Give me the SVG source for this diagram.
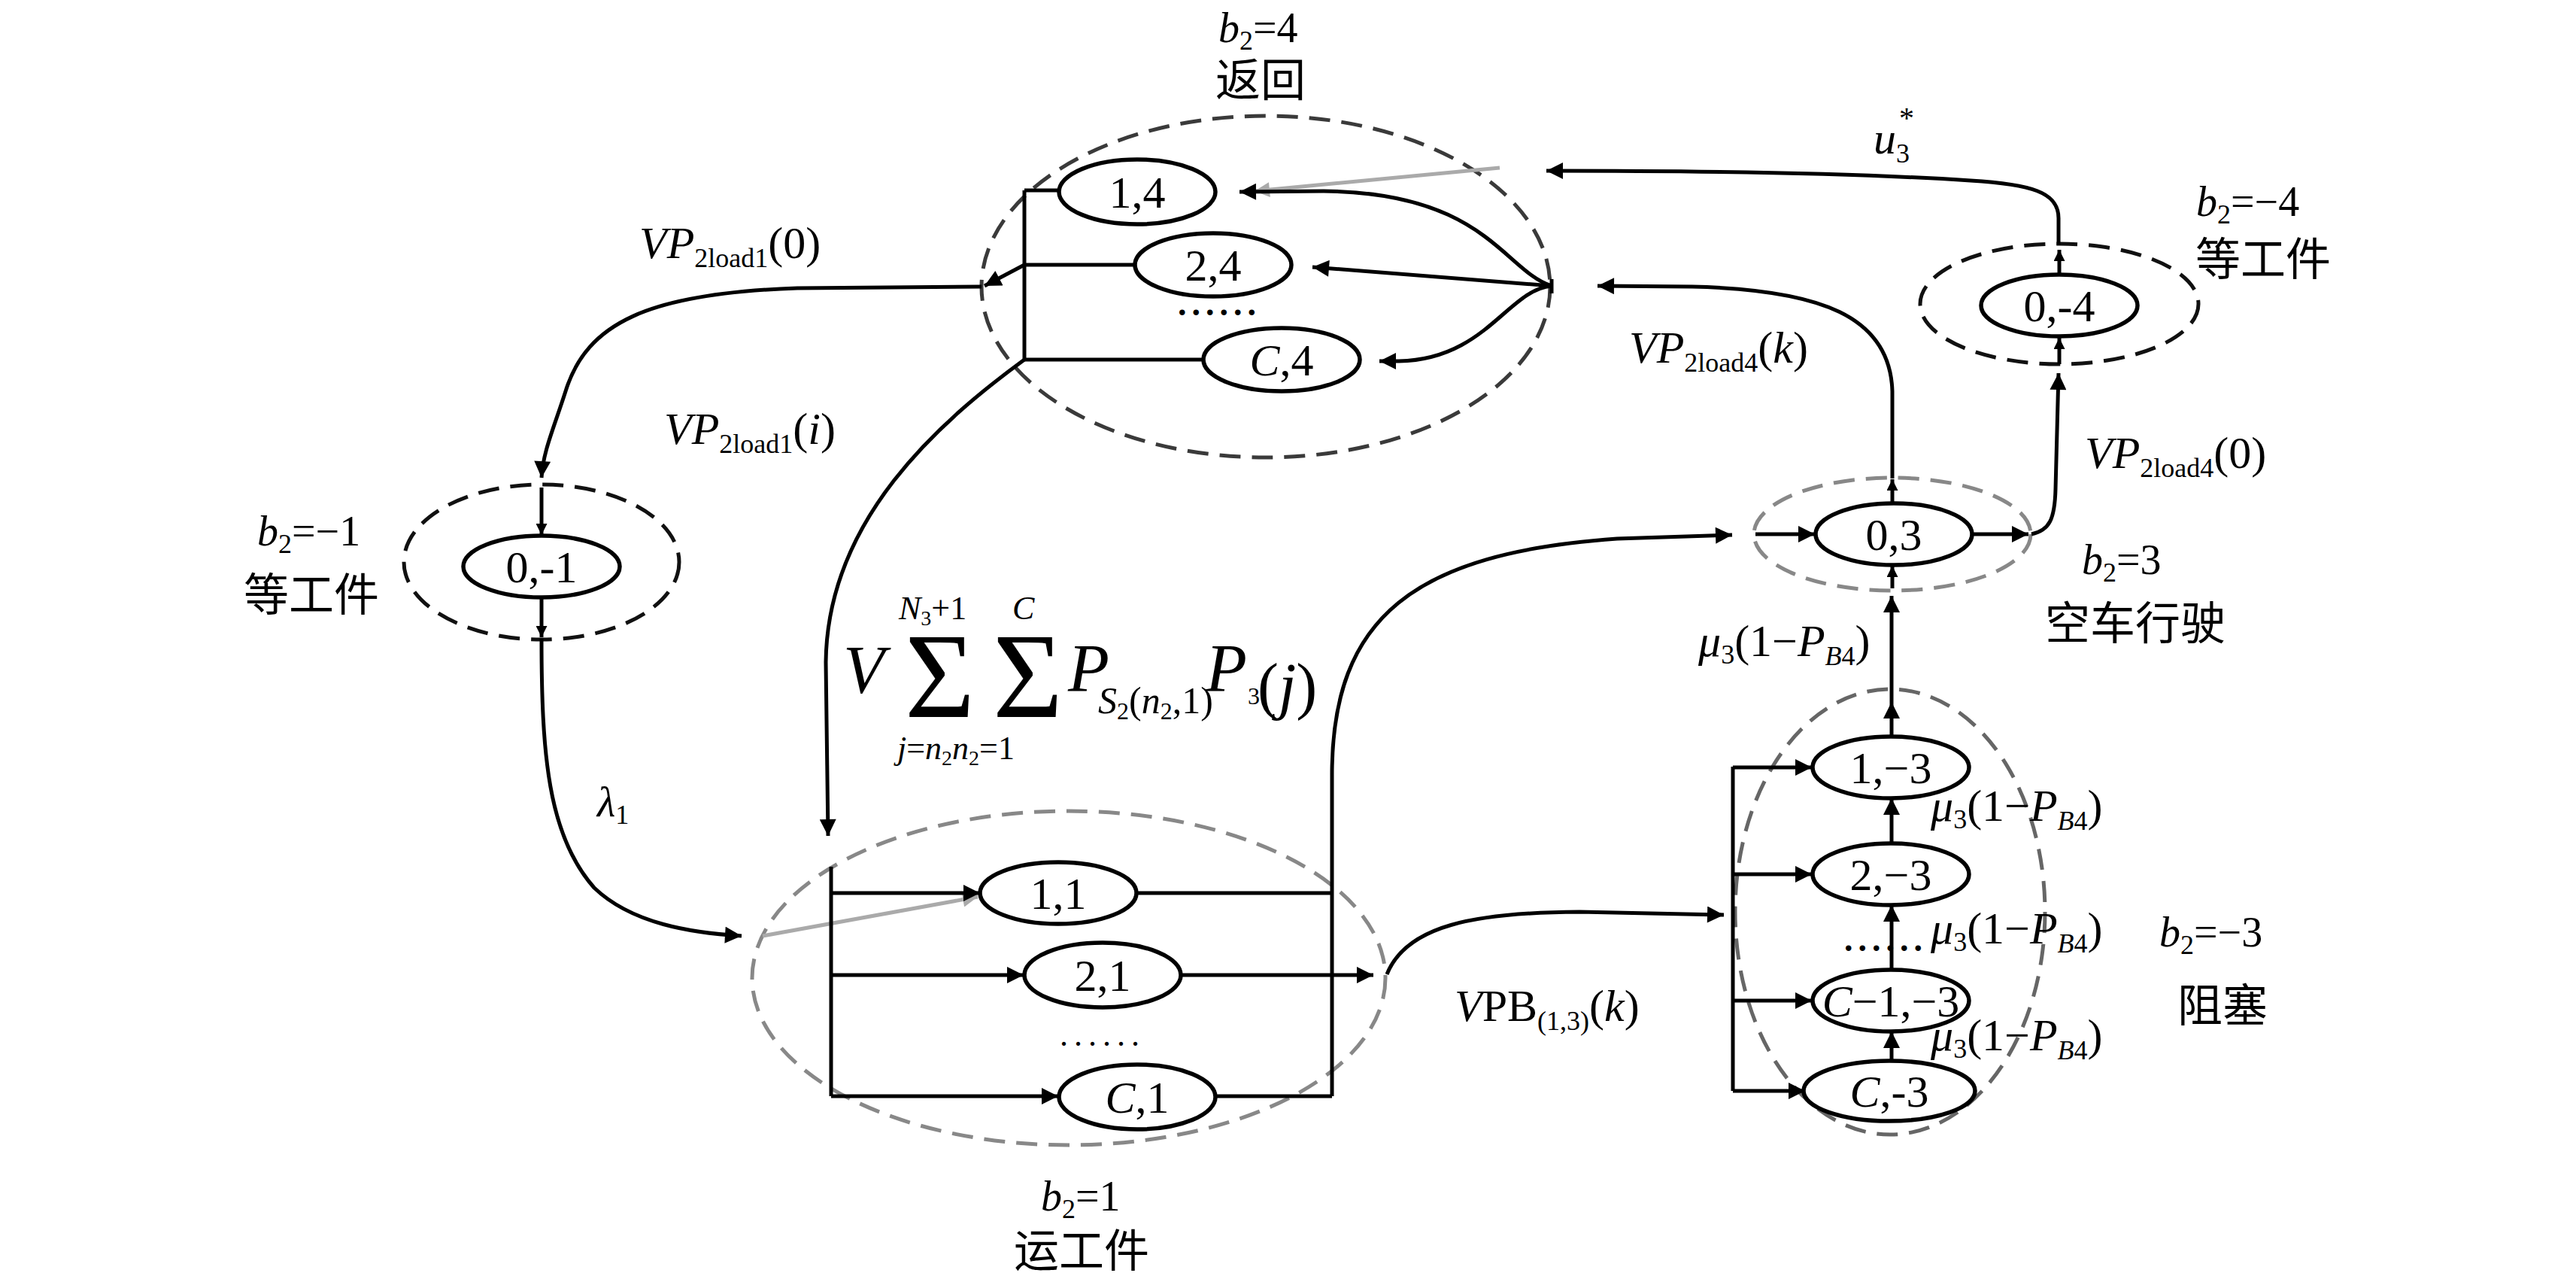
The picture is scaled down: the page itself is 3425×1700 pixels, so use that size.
<svg xmlns="http://www.w3.org/2000/svg" width="3425" height="1700" viewBox="0 0 3425 1700">
<defs>
<marker id="ah" viewBox="0 0 10 10" refX="10" refY="5" markerWidth="26" markerHeight="22" markerUnits="userSpaceOnUse" orient="auto"><path d="M0,0 L10,5 L0,10 z" fill="#000"/></marker>
<marker id="ahs" viewBox="0 0 10 10" refX="10" refY="5" markerWidth="18" markerHeight="15" markerUnits="userSpaceOnUse" orient="auto"><path d="M0,0 L10,5 L0,10 z" fill="#000"/></marker>
<marker id="ahg" viewBox="0 0 10 10" refX="10" refY="5" markerWidth="26" markerHeight="20" markerUnits="userSpaceOnUse" orient="auto"><path d="M0,0 L10,5 L0,10 z" fill="#aaa"/></marker>
</defs>
<style>
.t{font-family:"Liberation Serif","Noto Sans CJK SC",serif;fill:#000}
.i{font-style:italic}
.cjk{font-family:"Noto Sans CJK SC","Liberation Serif",sans-serif;font-size:60px;fill:#000}
.nl{font-family:"Liberation Serif",serif;font-size:60px;fill:#000;text-anchor:middle}
.node{fill:#fff;stroke:#000;stroke-width:5.5}
.grp{fill:none;stroke-width:5;stroke-dasharray:28 15}
.c{fill:none;stroke:#000;stroke-width:5}
.cg{fill:none;stroke:#aaa;stroke-width:5}
.a{marker-end:url(#ah)}
.as{marker-end:url(#ahs)}
</style>
<rect width="3425" height="1700" fill="#fff"/>

<!-- group ellipses -->
<g id="group-b2-4"><ellipse cx="1683" cy="381" rx="378" ry="227" class="grp" stroke="#3a3a3a"/></g>
<g id="group-b2-m1"><ellipse cx="720" cy="747" rx="183" ry="103" class="grp" stroke="#111"/></g>
<g id="group-b2-1"><ellipse cx="1421" cy="1300" rx="421" ry="222" class="grp" stroke="#888"/></g>
<g id="group-b2-3"><ellipse cx="2516" cy="710" rx="184" ry="75" class="grp" stroke="#888"/></g>
<g id="group-b2-m4"><ellipse cx="2738" cy="404" rx="185" ry="80" class="grp" stroke="#111"/></g>
<g id="group-b2-m3"><ellipse cx="2513" cy="1212" rx="206" ry="296" class="grp" stroke="#666"/></g>

<!-- connectors -->
<g id="connectors">
<path class="c" d="M1362,253 L1362,478"/>
<path class="c" d="M1362,253 L1410,253"/>
<path class="c" d="M1362,352 L1510,352"/>
<path class="c" d="M1362,478 L1601,478"/>
<path class="c a" d="M1362,352 L1309,380"/>
<path class="c a" d="M1305,381 L1060,383 C860,390 780,430 752,520 C736,570 722,600 720,635"/>
<path class="c as" d="M720,648 L720,711"/>
<path class="c as" d="M720,795 L720,847"/>
<path class="c a" d="M720,848 C720,1000 728,1110 790,1180 C840,1228 920,1240 986,1244"/>
<path class="cg" d="M1014,1244 L1300,1192" marker-end="url(#ahg)"/>
<path class="c a" d="M1362,478 C1250,560 1100,690 1098,880 L1101,1111"/>
<path class="c" d="M1105,1152 L1105,1457"/>
<path class="c a" d="M1105,1187 L1303,1187"/>
<path class="c a" d="M1105,1296 L1361,1296"/>
<path class="c a" d="M1105,1457 L1407,1457"/>
<path class="c" d="M1511,1187 L1771,1187"/>
<path class="c" d="M1615,1457 L1771,1457"/>
<path class="c a" d="M1771,1457 L1771,1030 C1771,820 1880,735 2150,716 L2303,711"/>
<path class="c a" d="M1570,1296 L1826,1296"/>
<path class="c a" d="M1844,1295 C1870,1230 1960,1213 2100,1212 L2292,1216"/>
<path class="c" d="M2304,1019 L2304,1450"/>
<path class="c a" d="M2304,1020 L2409,1020"/>
<path class="c a" d="M2304,1162 L2409,1162"/>
<path class="c a" d="M2304,1330 L2409,1330"/>
<path class="c a" d="M2304,1450 L2400,1450"/>
<path class="c a" d="M2515,1410 L2515,1371"/>
<path class="c a" d="M2515,1289 L2515,1203"/>
<path class="c a" d="M2515,1122 L2515,1061"/>
<path class="c a" d="M2515,979 L2515,933"/>
<path class="c a" d="M2515,933 L2515,792"/>
<path class="c as" d="M2516,782 L2516,752"/>
<path class="c a" d="M2334,710 L2413,710"/>
<path class="c a" d="M2622,710 L2697,710"/>
<path class="c as" d="M2516,669 L2516,637"/>
<path class="c a" d="M2516,636 L2516,520 C2513,420 2420,385 2250,381 L2124,380"/>
<path class="c a" d="M2701,710 C2725,705 2732,690 2733,650 L2737,496"/>
<path class="c as" d="M2738,484 L2738,449"/>
<path class="c as" d="M2738,365 L2738,332"/>
<path class="c a" d="M2737,326 L2737,290 C2737,255 2700,245 2620,240 C2500,232 2300,227 2056,227"/>
<path class="cg" d="M1994,223 L1668,254" marker-end="url(#ahg)"/>
<path class="c a" d="M2063,380 C2000,360 1975,256 1760,254 L1648,255"/>
<path class="c a" d="M2063,380 L1745,355"/>
<path class="c a" d="M2063,380 C2005,385 1975,478 1860,480 L1834,480"/>
<path class="c" d="M2063,371 L2063,390"/>
</g>

<!-- nodes -->
<g id="n-1-4"><ellipse cx="1512" cy="255" rx="104" ry="43" class="node"/><text x="1512" y="276" class="nl">1,4</text></g>
<g id="n-2-4"><ellipse cx="1613" cy="352" rx="104" ry="42" class="node"/><text x="1613" y="373" class="nl">2,4</text></g>
<g id="n-C-4"><ellipse cx="1704" cy="478" rx="104" ry="42" class="node"/><text x="1704" y="499" class="nl"><tspan font-style="italic">C</tspan>,4</text></g>
<g id="n-0-m1"><ellipse cx="720" cy="753" rx="104" ry="41" class="node"/><text x="720" y="774" class="nl">0,-1</text></g>
<g id="n-1-1"><ellipse cx="1407" cy="1187" rx="104" ry="41" class="node"/><text x="1407" y="1208" class="nl">1,1</text></g>
<g id="n-2-1"><ellipse cx="1466" cy="1296" rx="104" ry="43" class="node"/><text x="1466" y="1317" class="nl">2,1</text></g>
<g id="n-C-1"><ellipse cx="1512" cy="1458" rx="104" ry="43" class="node"/><text x="1512" y="1479" class="nl"><tspan font-style="italic">C</tspan>,1</text></g>
<g id="n-0-3"><ellipse cx="2518" cy="710" rx="104" ry="41" class="node"/><text x="2518" y="731" class="nl">0,3</text></g>
<g id="n-0-m4"><ellipse cx="2738" cy="406" rx="104" ry="41" class="node"/><text x="2738" y="427" class="nl">0,-4</text></g>
<g id="n-1-m3"><ellipse cx="2514" cy="1020" rx="104" ry="41" class="node"/><text x="2514" y="1041" class="nl">1,−3</text></g>
<g id="n-2-m3"><ellipse cx="2514" cy="1162" rx="104" ry="41" class="node"/><text x="2514" y="1183" class="nl">2,−3</text></g>
<g id="n-Cm1-m3"><ellipse cx="2514" cy="1330" rx="104" ry="41" class="node"/><text x="2514" y="1351" class="nl"><tspan font-style="italic">C</tspan>−1,−3</text></g>
<g id="n-C-m3"><ellipse cx="2512" cy="1450" rx="114" ry="40" class="node"/><text x="2512" y="1471" class="nl"><tspan font-style="italic">C</tspan>,-3</text></g>

<!-- dots -->
<text x="1566" y="419" class="t" style="font-size:46px;font-weight:bold;letter-spacing:7px">......</text>
<text x="1409" y="1390" class="t" style="font-size:44px;letter-spacing:8px">......</text>
<text x="2452" y="1264" class="t" style="font-size:46px;font-weight:bold;letter-spacing:7px">......</text>

<!-- labels -->
<g id="labels">
<text x="1620" y="56" class="t" style="font-size:56px"><tspan class="i">b</tspan><tspan font-size="36" dy="10">2</tspan><tspan dy="-10">=4</tspan></text>
<text x="1676" y="128" class="cjk" text-anchor="middle">返回</text>

<text x="850" y="343" class="t" style="font-size:60px"><tspan class="i">VP</tspan><tspan font-size="36" dy="12">2load1</tspan><tspan dy="-12">(0)</tspan></text>
<text x="883" y="590" class="t" style="font-size:60px"><tspan class="i">VP</tspan><tspan font-size="36" dy="12">2load1</tspan><tspan dy="-12">(</tspan><tspan class="i">i</tspan>)</text>

<text x="342" y="725" class="t" style="font-size:56px"><tspan class="i">b</tspan><tspan font-size="36" dy="10">2</tspan><tspan dy="-10">=−1</tspan></text>
<text x="414" y="812" class="cjk" text-anchor="middle">等工件</text>

<text x="794" y="1085" class="t" style="font-size:56px"><tspan class="i">λ</tspan><tspan font-size="36" dy="10">1</tspan></text>

<text x="1121" y="921" class="t i" style="font-size:90px">V</text>
<text x="1203" y="953" class="t" style="font-size:160px">Σ</text>
<text x="1320" y="953" class="t" style="font-size:160px">Σ</text>
<text x="1195" y="823" class="t" style="font-size:44px"><tspan class="i">N</tspan><tspan font-size="28" dy="8">3</tspan><tspan dy="-8">+1</tspan></text>
<text x="1346" y="823" class="t i" style="font-size:44px">C</text>
<text x="1193" y="1009" class="t" style="font-size:44px"><tspan class="i">j</tspan>=<tspan class="i">n</tspan><tspan font-size="28" dy="8">2</tspan><tspan class="i" dy="-8">n</tspan><tspan font-size="28" dy="8">2</tspan><tspan dy="-8">=1</tspan></text>
<text x="1420" y="919" class="t i" style="font-size:90px">P</text>
<text x="1460" y="948" class="t" style="font-size:50px"><tspan class="i">S</tspan><tspan font-size="32" dy="8">2</tspan><tspan dy="-8">(</tspan><tspan class="i">n</tspan><tspan font-size="32" dy="8">2</tspan><tspan dy="-8">,1)</tspan></text>
<text x="1603" y="919" class="t i" style="font-size:90px">P</text>
<text x="1659" y="936" class="t" style="font-size:32px">3</text>
<text x="1672" y="940" class="t" style="font-size:84px">(<tspan class="i">j</tspan>)</text>

<text x="2491" y="204" class="t" style="font-size:60px"><tspan class="i">u</tspan><tspan font-size="36" dy="12">3</tspan><tspan font-size="40" dy="-46" dx="-14">*</tspan></text>
<text x="2920" y="287" class="t" style="font-size:56px"><tspan class="i">b</tspan><tspan font-size="36" dy="10">2</tspan><tspan dy="-10">=−4</tspan></text>
<text x="2919" y="366" class="cjk">等工件</text>

<text x="2166" y="482" class="t" style="font-size:60px"><tspan class="i">VP</tspan><tspan font-size="36" dy="12">2load4</tspan><tspan dy="-12">(</tspan><tspan class="i">k</tspan>)</text>
<text x="2772" y="622" class="t" style="font-size:60px"><tspan class="i">VP</tspan><tspan font-size="36" dy="12">2load4</tspan><tspan dy="-12">(0)</tspan></text>

<text x="2768" y="763" class="t" style="font-size:56px"><tspan class="i">b</tspan><tspan font-size="36" dy="10">2</tspan><tspan dy="-10">=3</tspan></text>
<text x="2719" y="850" class="cjk">空车行驶</text>

<text x="2258" y="872" class="t" style="font-size:60px"><tspan class="i">μ</tspan><tspan font-size="36" dy="10">3</tspan><tspan dy="-10">(1−</tspan><tspan class="i">P</tspan><tspan font-size="36" dy="12" class="i">B</tspan><tspan font-size="36">4</tspan><tspan dy="-12">)</tspan></text>
<text x="2567" y="1091" class="t" style="font-size:60px"><tspan class="i">μ</tspan><tspan font-size="36" dy="10">3</tspan><tspan dy="-10">(1−</tspan><tspan class="i">P</tspan><tspan font-size="36" dy="12" class="i">B</tspan><tspan font-size="36">4</tspan><tspan dy="-12">)</tspan></text>
<text x="2567" y="1254" class="t" style="font-size:60px"><tspan class="i">μ</tspan><tspan font-size="36" dy="10">3</tspan><tspan dy="-10">(1−</tspan><tspan class="i">P</tspan><tspan font-size="36" dy="12" class="i">B</tspan><tspan font-size="36">4</tspan><tspan dy="-12">)</tspan></text>
<text x="2567" y="1396" class="t" style="font-size:60px"><tspan class="i">μ</tspan><tspan font-size="36" dy="10">3</tspan><tspan dy="-10">(1−</tspan><tspan class="i">P</tspan><tspan font-size="36" dy="12" class="i">B</tspan><tspan font-size="36">4</tspan><tspan dy="-12">)</tspan></text>

<text x="2871" y="1258" class="t" style="font-size:56px"><tspan class="i">b</tspan><tspan font-size="36" dy="10">2</tspan><tspan dy="-10">=−3</tspan></text>
<text x="2895" y="1358" class="cjk">阻塞</text>

<text x="1934" y="1357" class="t" style="font-size:60px"><tspan class="i">V</tspan>PB<tspan font-size="36" dy="12">(1,3)</tspan><tspan dy="-12">(</tspan><tspan class="i">k</tspan>)</text>

<text x="1384" y="1609" class="t" style="font-size:56px"><tspan class="i">b</tspan><tspan font-size="36" dy="10">2</tspan><tspan dy="-10">=1</tspan></text>
<text x="1438" y="1684" class="cjk" text-anchor="middle">运工件</text>
</g>
</svg>
